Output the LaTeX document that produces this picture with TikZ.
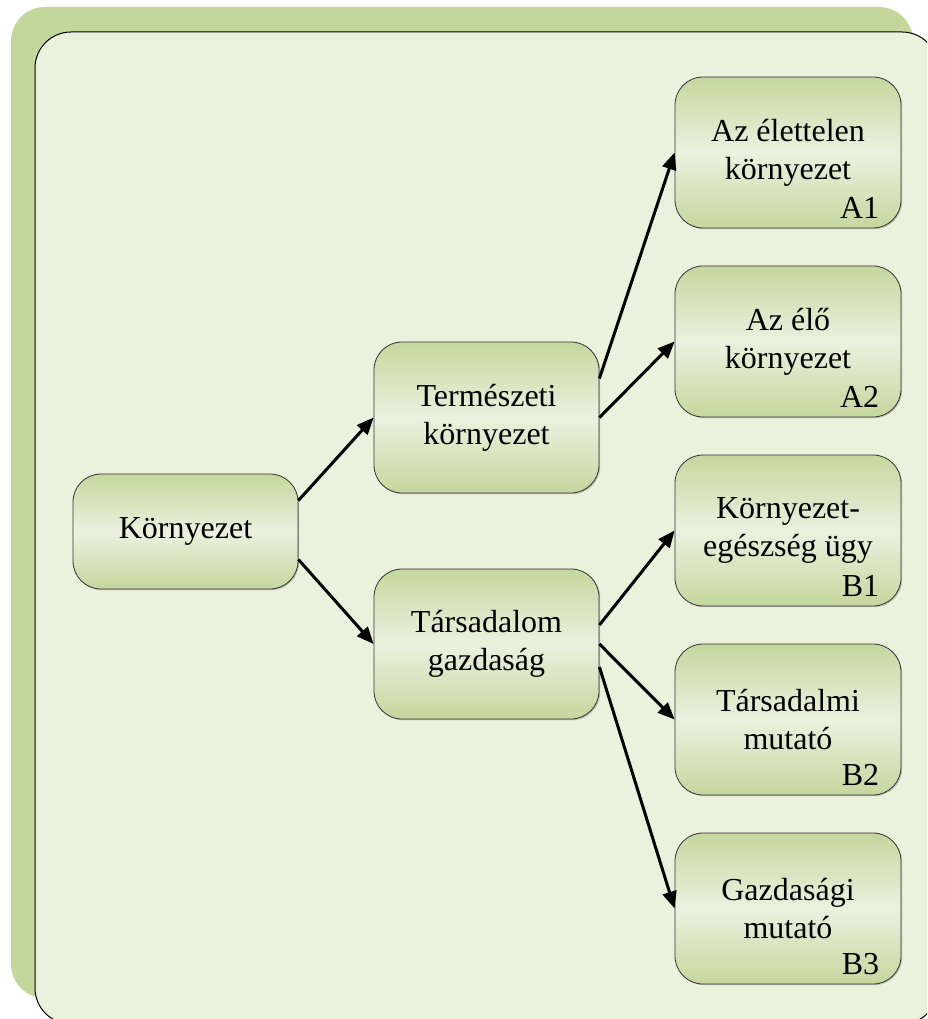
\documentclass[tikz,border=0pt]{standalone}
\usepackage{fontspec}
\setmainfont{Liberation Serif}
\usetikzlibrary{arrows.meta,shadows}

\definecolor{frameGreen}{HTML}{C3D69B}
\definecolor{panelFill}{HTML}{EAF1DD}
\definecolor{boxDark}{HTML}{C4D79E}
\definecolor{boxLight}{HTML}{EBF1DF}

\tikzset{
  box/.style={rectangle, rounded corners=28pt, draw=black!80, line width=0.8pt,
    top color=boxDark, bottom color=boxDark, middle color=boxLight,
    minimum width=225pt, minimum height=151pt, inner sep=0pt,
    align=center, font=\fontsize{32}{38}\selectfont,
    drop shadow={shadow xshift=1.2pt, shadow yshift=-1.2pt, opacity=0.35, fill=black!60}},
  tag/.style={anchor=base east, inner sep=0pt, font=\fontsize{32}{38}\selectfont},
  link/.style={line width=3pt, -{Triangle[length=17pt,width=14pt]}}
}

\begin{document}
\begin{tikzpicture}[x=1pt,y=-1pt]
  \useasboundingbox (0,0) rectangle (927,1019);
  \clip (0,0) rectangle (927,1019);

  % background frame and panel
  \fill[frameGreen, rounded corners=34pt] (11,7) rectangle (913,998);
  \draw[fill=panelFill, line width=1pt, rounded corners=36pt] (35,32) rectangle (938,1024);

  % nodes
  \node[box, minimum height=115pt] (K) at (185.5,531.5) {Környezet};
  \node[box] (T1) at (486.5,417.5) {Természeti\\környezet};
  \node[box, minimum height=150pt] (T2) at (486.5,644) {Társadalom\\gazdaság};
  \node[box, minimum width=226pt] (A1) at (788,152.5) {Az élettelen\\környezet};
  \node[box, minimum width=226pt] (A2) at (788,341.5) {Az élő\\környezet};
  \node[box, minimum width=226pt] (B1) at (788,530.5) {Környezet-\\egészség ügy};
  \node[box, minimum width=226pt] (B2) at (788,719.5) {Társadalmi\\mutató};
  \node[box, minimum width=226pt] (B3) at (788,908.5) {Gazdasági\\mutató};

  % corner labels
  \node[tag] (lA1) at ([xshift=-22pt,yshift=10pt]A1.south east) {A1};
  \node[tag] (lA2) at ([xshift=-22pt,yshift=10pt]A2.south east) {A2};
  \node[tag] (lB1) at ([xshift=-22pt,yshift=10pt]B1.south east) {B1};
  \node[tag] (lB2) at ([xshift=-22pt,yshift=10pt]B2.south east) {B2};
  \node[tag] (lB3) at ([xshift=-22pt,yshift=10pt]B3.south east) {B3};

  % connectors
  \draw[link] ([yshift=31pt]K.east) -- (T1.west);
  \draw[link] ([yshift=-28pt]K.east) -- (T2.west);
  \draw[link] ([yshift=39pt]T1.east) -- (A1.west);
  \draw[link] (T1.east) -- (A2.west);
  \draw[link] ([yshift=19pt]T2.east) -- (B1.west);
  \draw[link] (T2.east) -- (B2.west);
  \draw[link] ([yshift=-23pt]T2.east) -- (B3.west);
\end{tikzpicture}
\end{document}
